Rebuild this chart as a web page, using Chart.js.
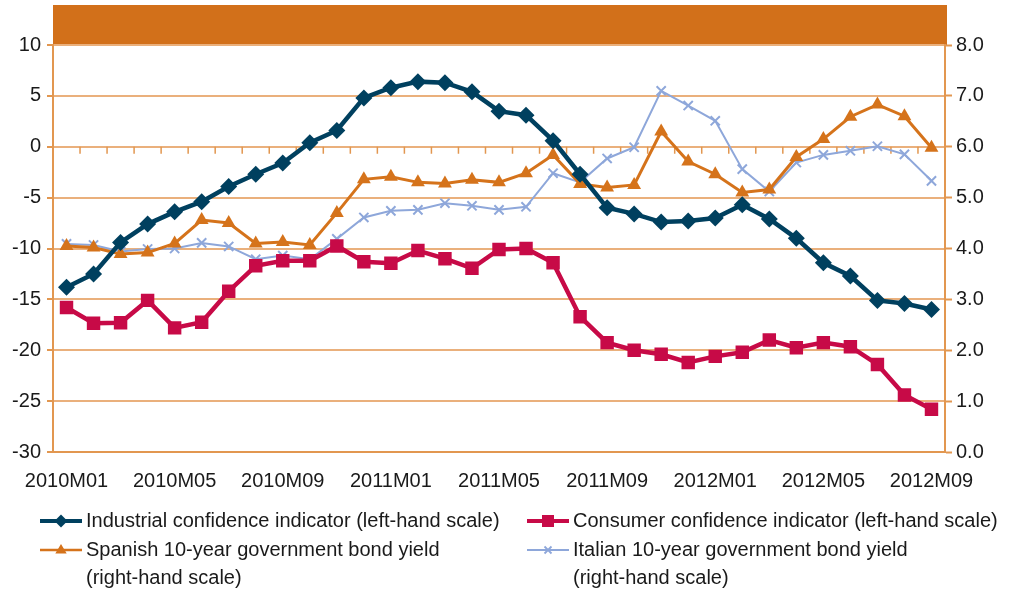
<!DOCTYPE html>
<html>
<head>
<meta charset="utf-8">
<script src="https://cdn.jsdelivr.net/npm/chart.js@4/dist/chart.umd.min.js"></script>
<style>
html,body{margin:0;padding:0;background:#fff;}
#wrap{width:1009px;height:590px;position:relative;}
canvas{display:block;}
</style>
</head>
<body>
<div id="wrap"><canvas id="c" width="1009" height="590"></canvas></div>
<script>
const months = [
  "2010M01","2010M02","2010M03","2010M04","2010M05","2010M06","2010M07","2010M08","2010M09","2010M10","2010M11","2010M12",
  "2011M01","2011M02","2011M03","2011M04","2011M05","2011M06","2011M07","2011M08","2011M09","2011M10","2011M11","2011M12",
  "2012M01","2012M02","2012M03","2012M04","2012M05","2012M06","2012M07","2012M08","2012M09"
];
const labelStep = 4;

const industrial = [-13.8,-12.5,-9.4,-7.6,-6.4,-5.4,-3.9,-2.7,-1.6,0.4,1.6,4.8,5.8,6.4,6.3,5.4,3.5,3.1,0.6,-2.7,-6.0,-6.6,-7.4,-7.3,-7.0,-5.7,-7.1,-9.0,-11.4,-12.7,-15.1,-15.4,-16.0];
const consumer = [-15.8,-17.35,-17.3,-15.1,-17.8,-17.25,-14.2,-11.7,-11.2,-11.2,-9.75,-11.3,-11.45,-10.2,-11.0,-11.95,-10.1,-10.0,-11.4,-16.7,-19.25,-20.0,-20.4,-21.2,-20.6,-20.2,-19.0,-19.75,-19.25,-19.65,-21.4,-24.4,-25.8];
const spanish = [4.05,4.02,3.89,3.92,4.1,4.56,4.5,4.1,4.13,4.07,4.7,5.36,5.41,5.3,5.28,5.35,5.3,5.48,5.84,5.27,5.2,5.25,6.3,5.71,5.46,5.1,5.16,5.8,6.15,6.59,6.83,6.6,5.98];
const italian = [4.09,4.07,3.94,3.99,4.0,4.11,4.04,3.79,3.86,3.79,4.19,4.61,4.74,4.76,4.89,4.84,4.76,4.82,5.48,5.3,5.77,5.99,7.1,6.81,6.51,5.56,5.12,5.69,5.84,5.92,6.01,5.85,5.33];

const seriesNames = [
  ["Industrial confidence indicator (left-hand scale)"],
  ["Consumer confidence indicator (left-hand scale)"],
  ["Spanish 10-year government bond yield", "(right-hand scale)"],
  ["Italian 10-year government bond yield", "(right-hand scale)"]
];

const leftTicks = {min: -30, max: 10, step: 5};
const rightTicks = {min: 0, max: 8, step: 1};

const FONT = "'Liberation Sans', Arial, sans-serif";
const TXT = '#1a1a1a';
const GRID = '#eab07c';
const AXIS = '#e29750';
const BAND = '#d2701a';

const C_IND = '#00405f';
const C_CON = '#c70a47';
const C_SPA = '#d5731b';
const C_ITA = '#8ea7da';

function drawMarker(ctx, style, x, y, r, color, lw) {
  ctx.save();
  ctx.fillStyle = color; ctx.strokeStyle = color; ctx.lineWidth = lw || 1;
  ctx.beginPath();
  if (style === 'rectRot') {
    ctx.moveTo(x, y - r); ctx.lineTo(x + r, y); ctx.lineTo(x, y + r); ctx.lineTo(x - r, y); ctx.closePath(); ctx.fill();
  } else if (style === 'rect') {
    ctx.rect(x - r, y - r, 2 * r, 2 * r); ctx.fill();
  } else if (style === 'triangle') {
    ctx.moveTo(x, y - r); ctx.lineTo(x + r * 0.95, y + r * 0.6); ctx.lineTo(x - r * 0.95, y + r * 0.6); ctx.closePath(); ctx.fill();
  } else if (style === 'crossRot') {
    ctx.moveTo(x - r, y - r); ctx.lineTo(x + r, y + r); ctx.moveTo(x + r, y - r); ctx.lineTo(x - r, y + r); ctx.stroke();
  }
  ctx.restore();
}

const decor = {
  id: 'decor',
  beforeDraw(chart) {
    const {ctx, chartArea} = chart;
    ctx.save();
    ctx.fillStyle = BAND;
    ctx.fillRect(chartArea.left, 5, chartArea.right - chartArea.left + 2, chartArea.top - 5);
    ctx.restore();
  },
  beforeDatasetsDraw(chart) {
    const {ctx} = chart;
    const xs = chart.scales.x, yl = chart.scales.y;
    const y0 = yl.getPixelForValue(0);
    ctx.save();
    ctx.strokeStyle = AXIS; ctx.lineWidth = 1.5;
    ctx.beginPath();
    for (let i = 1; i < months.length; i++) {
      const xp = (xs.getPixelForValue(i - 1) + xs.getPixelForValue(i)) / 2;
      ctx.moveTo(xp, y0); ctx.lineTo(xp, y0 + 7);
    }
    ctx.stroke();
    ctx.restore();
  },
  afterDraw(chart) {
    const {ctx} = chart;
    const items = [
      {col: 0, row: 0, color: C_IND, style: 'rectRot', r: 6.5, lw: 4, text: seriesNames[0]},
      {col: 1, row: 0, color: C_CON, style: 'rect', r: 6, lw: 4, text: seriesNames[1]},
      {col: 0, row: 1, color: C_SPA, style: 'triangle', r: 6, lw: 2.5, text: seriesNames[2]},
      {col: 1, row: 1, color: C_ITA, style: 'crossRot', r: 3.5, lw: 2, text: seriesNames[3]}
    ];
    const colX = [40, 527];
    const rowY = [521, 550];
    const lineH = 28;
    ctx.save();
    ctx.font = '20px ' + FONT;
    ctx.fillStyle = TXT;
    ctx.textBaseline = 'middle';
    items.forEach(it => {
      const x = colX[it.col], y = rowY[it.row];
      ctx.save();
      ctx.strokeStyle = it.color; ctx.lineWidth = it.lw;
      ctx.beginPath(); ctx.moveTo(x, y); ctx.lineTo(x + 42, y); ctx.stroke();
      ctx.restore();
      drawMarker(ctx, it.style, x + 21, y, it.r, it.color, it.style === 'crossRot' ? 1.8 : 1);
      ctx.fillStyle = TXT;
      it.text.forEach((t, k) => ctx.fillText(t, x + 46, y + k * lineH));
    });
    ctx.restore();
  }
};

new Chart(document.getElementById('c'), {
  type: 'line',
  data: {
    labels: months,
    datasets: [
      {label: seriesNames[0].join(' '), data: industrial, yAxisID: 'y', borderColor: C_IND, backgroundColor: C_IND,
       borderWidth: 4.5, pointStyle: 'rectRot', pointRadius: 8.5, pointBorderWidth: 0, tension: 0, order: 1},
      {label: seriesNames[1].join(' '), data: consumer, yAxisID: 'y', borderColor: C_CON, backgroundColor: C_CON,
       borderWidth: 4.5, pointStyle: 'rect', pointRadius: 9.5, pointBorderWidth: 0, tension: 0, order: 2},
      {label: seriesNames[2].join(' '), data: spanish, yAxisID: 'y2', borderColor: C_SPA, backgroundColor: C_SPA,
       borderWidth: 3, pointStyle: 'triangle', pointRadius: 8, pointBorderWidth: 0, tension: 0, order: 3},
      {label: seriesNames[3].join(' '), data: italian, yAxisID: 'y2', borderColor: C_ITA, backgroundColor: C_ITA,
       borderWidth: 2, pointStyle: 'crossRot', pointRadius: 6.5, pointBorderWidth: 2, tension: 0, order: 4}
    ]
  },
  options: {
    responsive: false,
    animation: false,
    devicePixelRatio: 1,
    layout: {padding: {top: 45, left: 0, right: 0, bottom: 0}},
    plugins: {legend: {display: false}, tooltip: {enabled: false}, title: {display: false}},
    scales: {
      x: {
        type: 'category',
        offset: true,
        grid: {display: false, drawTicks: false},
        border: {display: true, color: AXIS, width: 2},
        ticks: {
          autoSkip: false, maxRotation: 0, minRotation: 0, padding: 17,
          color: TXT, font: {family: FONT, size: 20},
          callback: (v, i) => (i % labelStep === 0 ? months[i] : '')
        },
        afterFit(s) { s.height = 138; }
      },
      y: {
        position: 'left',
        min: leftTicks.min, max: leftTicks.max,
        ticks: {stepSize: leftTicks.step, color: TXT, font: {family: FONT, size: 20}, padding: 6},
        grid: {color: GRID, lineWidth: 2, tickLength: 6, tickColor: AXIS, tickWidth: 2},
        border: {display: true, color: AXIS, width: 2},
        afterFit(s) { s.width = 53; }
      },
      y2: {
        position: 'right',
        min: rightTicks.min, max: rightTicks.max,
        ticks: {stepSize: rightTicks.step, color: TXT, font: {family: FONT, size: 20}, padding: 4,
                callback: v => Number(v).toFixed(1)},
        grid: {drawOnChartArea: false, tickLength: 7, tickColor: AXIS, tickWidth: 2},
        border: {display: true, color: AXIS, width: 2},
        afterFit(s) { s.width = 64; }
      }
    }
  },
  plugins: [decor]
});
</script>
</body>
</html>
